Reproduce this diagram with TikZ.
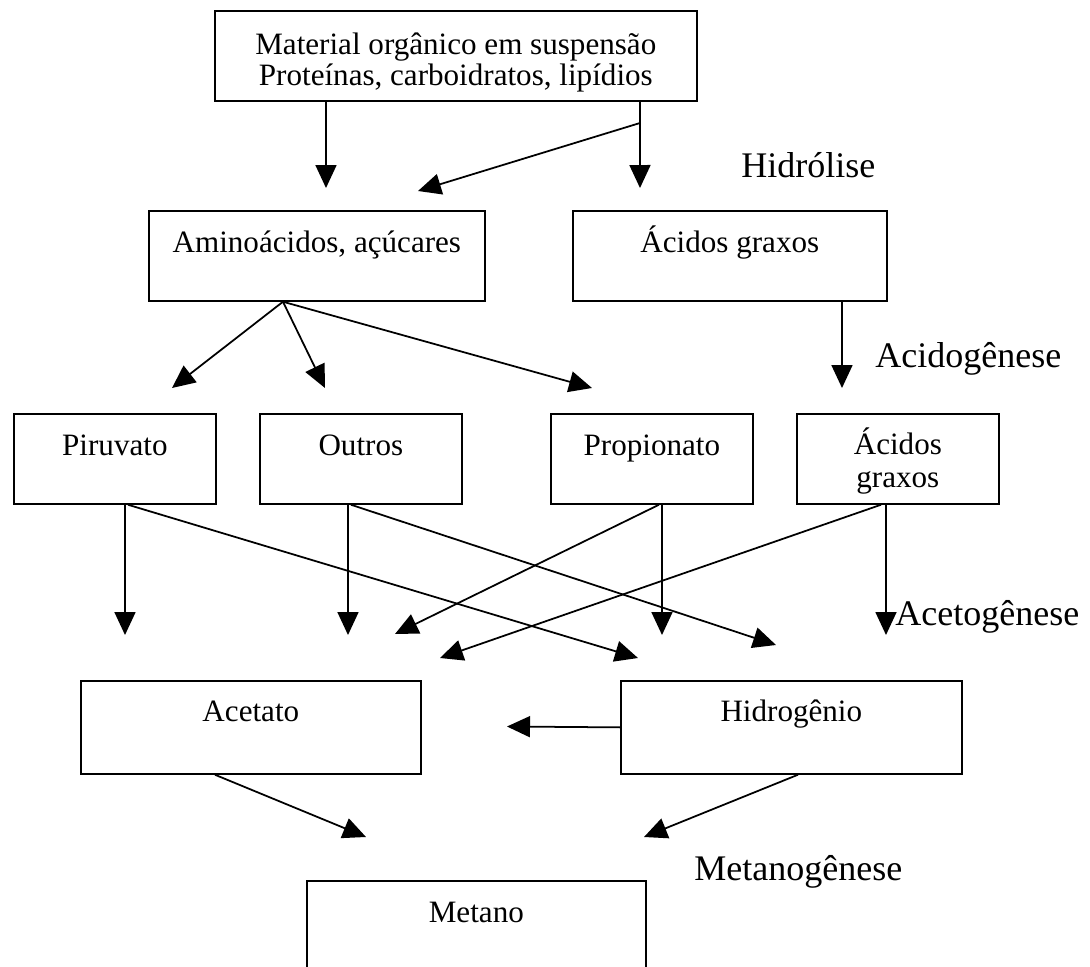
\documentclass[tikz,border=0pt]{standalone}
\usepackage{fontspec}
\setmainfont{Liberation Serif}
\usetikzlibrary{arrows.meta}

\begin{document}
\begin{tikzpicture}[x=0.02cm, y=-0.02cm,
    caixa/.style={draw, line width=1pt, rectangle, inner sep=0pt, align=center, anchor=north west,
      font=\fontsize{17.7pt}{18pt}\selectfont, text height=0.84cm, text depth=0.96cm},
    etapa/.style={anchor=base west, inner sep=0pt, font=\fontsize{20.5pt}{24pt}\selectfont},
    seta/.style={line width=1pt, -{Triangle[length=0.46cm, width=0.42cm]}}]
    \useasboundingbox (0,0) rectangle (1090,967);
    \clip (0,0) rectangle (1090,967);

    \node [caixa, minimum width=9.64cm, text height=1.5cm, text depth=0.3cm] (material) at (214,10) {Material orgânico em suspensão\\Proteínas, carboidratos, lipídios};
    \node [caixa, minimum width=6.72cm] (amino) at (148,210) {Aminoácidos, açúcares};
    \node [caixa, minimum width=6.28cm] (graxos) at (572,210) {Ácidos graxos};
    \node [caixa, minimum width=4.04cm] (piruvato) at (13,413) {Piruvato};
    \node [caixa, minimum width=4.04cm] (outros) at (259,413) {Outros};
    \node [caixa, minimum width=4.04cm] (propionato) at (550,413) {Propionato};
    \node [caixa, minimum width=4.04cm, text height=1.48cm, text depth=0.32cm] (graxosb) at (796,413) {Ácidos\\[1pt]graxos};
    \node [caixa, minimum width=6.8cm, text height=0.82cm, text depth=1.04cm] (acetato) at (80,680) {Acetato};
    \node [caixa, minimum width=6.82cm, text height=0.82cm, text depth=1.04cm] (hidrogenio) at (620,680) {Hidrogênio};
    \node [caixa, minimum width=6.78cm, text depth=1.2cm] (metano) at (306,880) {Metano};

    \node [etapa] (hidrolise) at (741,177) {Hidrólise};
    \node [etapa] (acidogenese) at (875,367) {Acidogênese};
    \node [etapa] (acetogenese) at (895,625) {Acetogênese};
    \node [etapa] (metanogenese) at (694,880) {Metanogênese};

    \coordinate (ramo) at (640,123);
    \coordinate (pamino) at (326,188);
    \coordinate (pacucar) at (418,191);
    \coordinate (pgraxos) at (640,188);
    \coordinate (ppiruvato) at (172,388);
    \coordinate (poutros) at (325,388);
    \coordinate (ppropionato) at (592,388);
    \coordinate (pgraxosb) at (842,388);
    \coordinate (pacetato1) at (125,635);
    \coordinate (pacetato2) at (348,635);
    \coordinate (pacetato3) at (395,634);
    \coordinate (pacetato4) at (440,658);
    \coordinate (phidro1) at (638,658);
    \coordinate (phidro2) at (662,635);
    \coordinate (phidro3) at (776,645);
    \coordinate (phidro4) at (886,635);
    \coordinate (pesquerda) at (507,726.5);
    \coordinate (pmetano1) at (366,837);
    \coordinate (pmetano2) at (644,837);

    \draw [seta] ([xshift=2.24cm]material.south west) -- (pamino);
    \draw [seta] ([xshift=8.52cm]material.south west) -- (pgraxos);
    \draw [seta] (ramo) -- (pacucar);

    \draw [seta] ([xshift=2.7cm]amino.south west) -- (ppiruvato);
    \draw [seta] ([xshift=2.7cm]amino.south west) -- (poutros);
    \draw [seta] ([xshift=2.7cm]amino.south west) -- (ppropionato);
    \draw [seta] ([xshift=5.4cm]graxos.south west) -- (pgraxosb);

    \draw [seta] ([xshift=2.24cm]piruvato.south west) -- (pacetato1);
    \draw [seta] ([xshift=2.3cm]piruvato.south west) -- (phidro1);
    \draw [seta] ([xshift=1.78cm]outros.south west) -- (pacetato2);
    \draw [seta] ([xshift=1.84cm]outros.south west) -- (phidro3);
    \draw [seta] ([xshift=2.24cm]propionato.south west) -- (phidro2);
    \draw [seta] ([xshift=2.18cm]propionato.south west) -- (pacetato3);
    \draw [seta] ([xshift=1.8cm]graxosb.south west) -- (phidro4);
    \draw [seta] ([xshift=1.7cm]graxosb.south west) -- (pacetato4);

    \draw [seta] (hidrogenio.west) -- (pesquerda);
    \draw [seta] ([xshift=2.7cm]acetato.south west) -- (pmetano1);
    \draw [seta] ([xshift=3.56cm]hidrogenio.south west) -- (pmetano2);
\end{tikzpicture}
\end{document}
